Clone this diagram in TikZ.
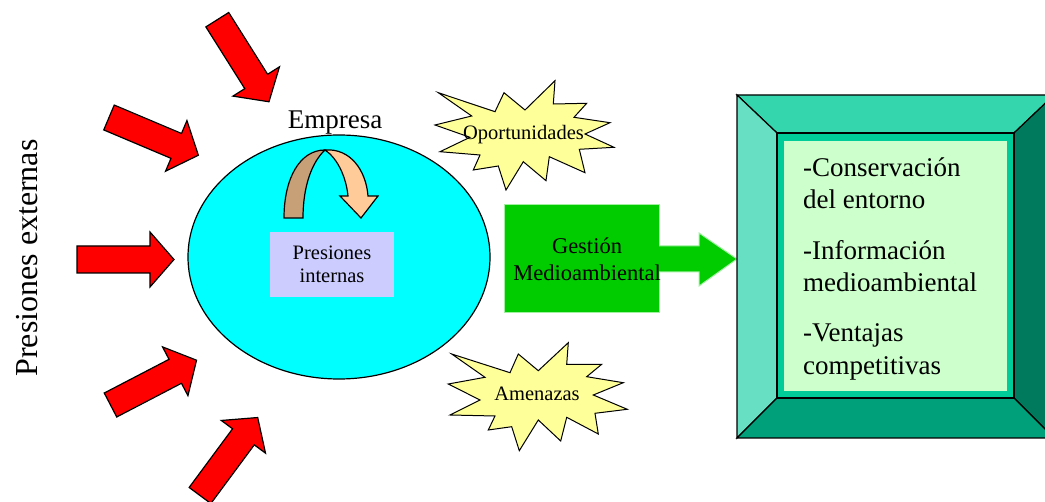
\documentclass[tikz,border=0pt]{standalone}
\usepackage{fontspec}
\setmainfont{Liberation Serif}
\newcommand\fsz[1]{\fontsize{#1}{#1}\selectfont}
\definecolor{pushred}{HTML}{FF0000}
\definecolor{company}{HTML}{00FFFF}
\definecolor{burst}{HTML}{FFFF99}
\definecolor{tandark}{HTML}{C8A078}
\definecolor{tanlight}{HTML}{FFCC99}
\definecolor{lavender}{HTML}{CCCCFF}
\definecolor{gestgreen}{HTML}{00CC00}
\definecolor{gestedge}{HTML}{A0F0A0}
\definecolor{bevtop}{HTML}{33D6AD}
\definecolor{bevleft}{HTML}{66DFC2}
\definecolor{bevright}{HTML}{007A5C}
\definecolor{bevbot}{HTML}{00A07A}
\definecolor{bevface}{HTML}{00CC99}
\definecolor{panel}{HTML}{CCFFCC}
\tikzset{
  outline/.style={draw=black,line width=1.2pt,line join=miter},
  pushfill/.style={outline,fill=pushred},
  burststyle/.style={outline,fill=burst,line width=1pt},
  label/.style={inner sep=0pt,anchor=base},
  listitem/.style={inner sep=0pt,anchor=base west,font=\fsz{27}},
}
\begin{document}
\begin{tikzpicture}[x=1pt,y=-1pt]
\useasboundingbox (0,0) rectangle (1045,502);
\clip (0,0) rectangle (1045,502);

% external pressure arrows
\foreach \tx/\ty/\ang in {217.3/19.7/-57.8, 109/117.5/-22.9, 77/259.5/0, 110.5/405/27.5, 200/495.5/53.5}{
  \begin{scope}[shift={(\tx,\ty)},rotate=\ang]
    \draw[pushfill] (0,-13.5) -- (73,-13.5) -- (73,-27.5) -- (97,0) -- (73,27.5) -- (73,13.5) -- (0,13.5) -- cycle;
  \end{scope}
}

\node[label,rotate=90,font=\fsz{32}] (ext) at (37,258) {Presiones externas};

% the company
\draw[outline,fill=company] (339,257) ellipse [x radius=151pt, y radius=122pt];
\node[label,font=\fsz{27}] (emp) at (335,129) {Empresa};

% U-turn arrow inside the company
\draw[outline,fill=tandark] (284,218) .. controls (284,178) and (300,150) .. (325,150)
  .. controls (312,162) and (303,186) .. (303,218) -- cycle;
\draw[outline,fill=tanlight] (325,150) .. controls (350,148) and (366,170) .. (368,196)
  -- (378,196) -- (361,218) -- (340,196) -- (348,196)
  .. controls (346,176) and (337,158) .. (325,150) -- cycle;

\fill[lavender] (270,232) rectangle (394,297);
\node[label,font=\fsz{20.5}] (pint1) at (332,260) {Presiones};
\node[label,font=\fsz{20.5}] (pint2) at (332,283) {internas};

% opportunities and threats
\draw[burststyle] (438.3,92.7) -- (495,111.7) -- (504,92.7) -- (525,110) -- (555,80.7)
  -- (553.3,104) -- (586.7,103.3) -- (574,117.3) -- (610,122.7) -- (585,134)
  -- (614,147.3) -- (579.3,149.3) -- (585,172.7) -- (549.3,156.7) -- (546,180.7)
  -- (523.3,161.7) -- (506,190) -- (498.3,166) -- (473.3,170) -- (480,155)
  -- (440,151.7) -- (470,137.3) -- (435,125) -- (471.7,116) -- cycle;
\node[label,font=\fsz{20.5}] (opor) at (523.5,140) {Oportunidades};

\draw[burststyle] (451.7,354) -- (510,372.7) -- (518.3,354) -- (538.3,370.7) -- (568.3,342.7)
  -- (566.7,364.3) -- (601.7,364.3) -- (586.7,376.7) -- (623.3,382.7) -- (593.3,395)
  -- (627.3,409.3) -- (595,413.3) -- (598.3,434) -- (566.7,417.3) -- (560.7,441)
  -- (538.3,420) -- (519.3,450.7) -- (511.7,426.7) -- (488.3,430) -- (495,416)
  -- (450,415) -- (480,400) -- (448.3,384) -- (485,377.3) -- cycle;
\node[label,font=\fsz{20.5}] (amen) at (537,401) {Amenazas};

% environmental management and its outcome
\draw[fill=gestgreen,draw=gestedge,line width=1pt] (504,205) rectangle (659,313);
\fill[gestgreen] (655,246) -- (699,246) -- (699,233) -- (737,259) -- (699,286) -- (699,272) -- (655,272) -- cycle;
\draw[gestedge,line width=1pt] (659,246) -- (699,246) -- (699,233) -- (737,259) -- (699,286) -- (699,272) -- (659,272);
\node[label,font=\fsz{22.5}] (gest1) at (587,254) {Gestión};
\node[label,font=\fsz{22.5}] (gest2) at (587,281) {Medioambiental};

% bevelled result frame
\coordinate (otl) at (737,95);  \coordinate (otr) at (1054,95);
\coordinate (obr) at (1054,438); \coordinate (obl) at (737,438);
\coordinate (itl) at (777,133); \coordinate (itr) at (1014,133);
\coordinate (ibr) at (1014,398); \coordinate (ibl) at (777,398);
\draw[outline,fill=bevtop] (otl) -- (otr) -- (itr) -- (itl) -- cycle;
\draw[outline,fill=bevleft] (otl) -- (itl) -- (ibl) -- (obl) -- cycle;
\draw[outline,fill=bevright] (otr) -- (obr) -- (ibr) -- (itr) -- cycle;
\draw[outline,fill=bevbot] (obl) -- (ibl) -- (ibr) -- (obr) -- cycle;
\draw[outline,fill=bevface] (itl) rectangle (ibr);
\fill[panel] (784,141) rectangle (1007,391);

\node[listitem] (r1) at (803,177) {-Conservación};
\node[listitem] (r2) at (803,209) {del entorno};
\node[listitem] (r3) at (803,260) {-Información};
\node[listitem] (r4) at (803,292) {medioambiental};
\node[listitem] (r5) at (803,342) {-Ventajas};
\node[listitem] (r6) at (803,375) {competitivas};
\end{tikzpicture}
\end{document}
